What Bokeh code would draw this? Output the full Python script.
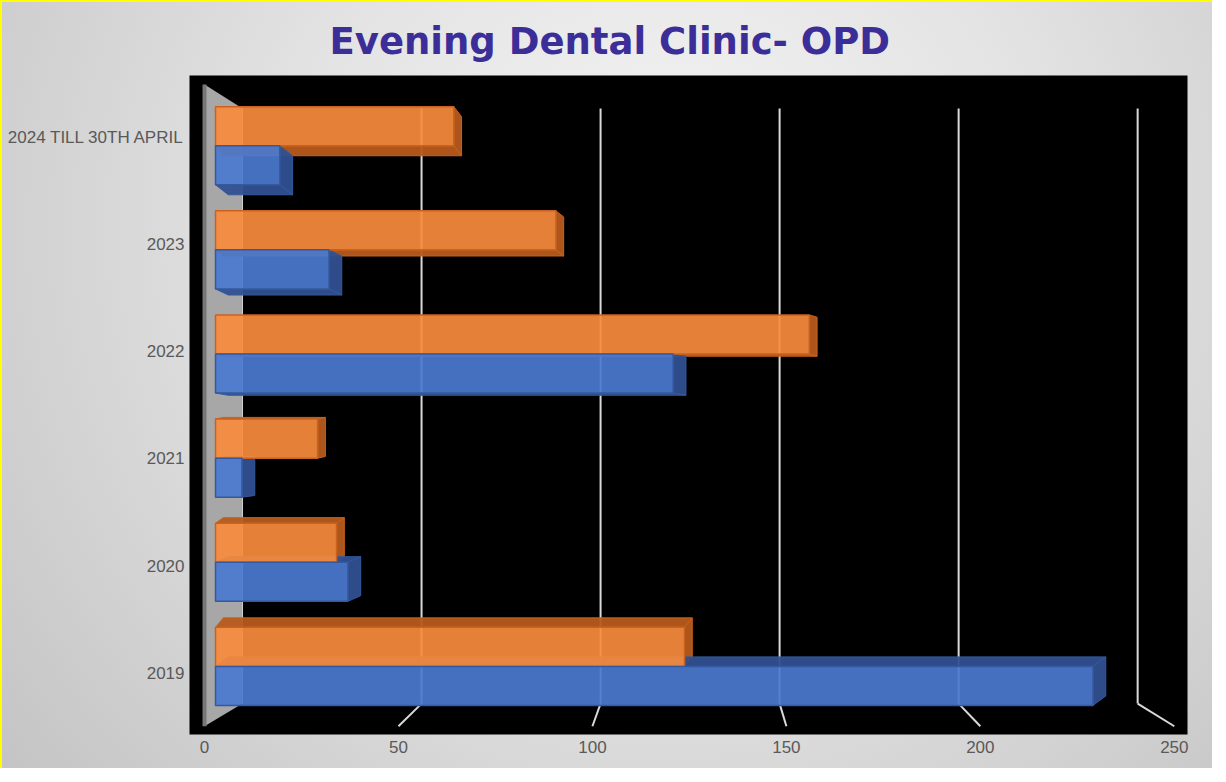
from bokeh.plotting import figure
from bokeh.models import FixedTicker
from bokeh.embed import file_html
from bokeh.resources import INLINE

# ---------------- data ----------------
categories = ["2019", "2020", "2021", "2022", "2023", "2024 TILL 30TH APRIL"]
blue_values = [232, 35, 7, 121, 30, 17]
orange_values = [124, 32, 27, 157, 90, 63]
x_ticks = [0, 50, 100, 150, 200, 250]

# ---------------- 3-D projection / style constants ----------------
BAR_X0, BAR_XS = 2.835, 0.975      # bar plane (x) relative to front axis
BAR_Y0, BAR_YS = 0.064, 0.971      # bar plane (y) relative to category ticks
BAR_H = 0.364
BACK_X0, BACK_XS = 9.8, 0.923      # back wall plane
FRONT_FLOOR_Y, BACK_FLOOR_Y = -0.494, -0.283
BACK_TOP_Y, FRONT_TOP_Y = 5.266, 5.49
DY0, DYK = 0.0886, 0.0364          # vertical depth offset per category
DX_BLUE, DX_ORANGE = 3.3, 2.0      # horizontal depth offset

ORANGE, ORANGE_DARK, ORANGE_EDGE = "#f78b3c", "#b75a1c", "#c9621f"
BLUE, BLUE_DARK, BLUE_EDGE = "#4a79cf", "#2f5090", "#34599e"
TEXT = "#595959"

p = figure(width=1212, height=768, output_backend="svg", toolbar_location=None,
           x_range=(-3.87, 253.4), y_range=(-0.571, 5.574),
           min_border_left=187, min_border_right=27, min_border_top=73, min_border_bottom=36)
p.background_fill_color = "black"
p.border_fill_color = None
p.outline_line_color = None
p.styles = {"background": "radial-gradient(circle at 55% 30%, #f5f5f5 0%, #e3e3e3 45%, #c4c4c4 100%)",
            "border-top": "2px solid #ffff00", "border-left": "2px solid #ffff00"}
p.xgrid.grid_line_color = None
p.ygrid.grid_line_color = None

# title
p.title.text = "Evening Dental Clinic- OPD"
p.title.text_font = "DejaVu Sans"
p.title.text_font_style = "bold"
p.title.text_font_size = "37px"
p.title.text_color = "#3b2e99"
p.title.align = "left"
p.title.offset = 140
p.title.standoff = 26

# axes
p.xaxis.ticker = FixedTicker(ticks=x_ticks)
p.yaxis.ticker = FixedTicker(ticks=list(range(len(categories))))
p.yaxis.major_label_overrides = {i: c for i, c in enumerate(categories)}
for ax in (p.xaxis[0], p.yaxis[0]):
    ax.axis_line_color = None
    ax.major_tick_line_color = None
    ax.minor_tick_line_color = None
    ax.major_tick_out = 0
    ax.major_tick_in = 0
    ax.minor_tick_out = 0
    ax.minor_tick_in = 0
    ax.major_label_text_font = "Liberation Sans"
    ax.major_label_text_font_size = "17px"
    ax.major_label_text_color = TEXT
p.xaxis.major_label_standoff = 6
p.yaxis.major_label_standoff = 5

# back-wall gridlines & floor lines
gx = [BACK_X0 + BACK_XS * t for t in x_ticks[1:]]
p.segment(x0=gx, y0=[BACK_FLOOR_Y] * len(gx), x1=gx, y1=[BACK_TOP_Y] * len(gx),
          line_color="#d9d9d9", line_width=2)
p.segment(x0=gx, y0=[BACK_FLOOR_Y] * len(gx), x1=x_ticks[1:], y1=[FRONT_FLOOR_Y] * len(gx),
          line_color="#d9d9d9", line_width=2)

# left wall
p.patch(x=[x_ticks[0], BACK_X0, BACK_X0, x_ticks[0]],
        y=[FRONT_FLOOR_Y, BACK_FLOOR_Y, BACK_TOP_Y, FRONT_TOP_Y],
        fill_color="#a7a7a7", line_color=None)
p.line(x=[x_ticks[0], x_ticks[0]], y=[FRONT_FLOOR_Y, FRONT_TOP_Y], line_color="#777777", line_width=4)
p.line(x=[BACK_X0, BACK_X0], y=[BACK_FLOOR_Y, BACK_TOP_Y], line_color="#d0d0d0", line_width=1)

# bars
def faces(vals, offset, dx):
    side_x, side_y, cap_x, cap_y, fy, fr = [], [], [], [], [], []
    for i, v in enumerate(vals):
        yc = BAR_Y0 + BAR_YS * i + offset
        yb, yt = yc - BAR_H / 2, yc + BAR_H / 2
        x0 = BAR_X0
        x1 = BAR_X0 + BAR_XS * v
        dy = DY0 - DYK * i
        side_x.append([x1, x1 + dx, x1 + dx, x1])
        side_y.append([yb, yb + dy, yt + dy, yt])
        edge = yt if dy > 0 else yb
        cap_x.append([x0, x0 + dx, x1 + dx, x1])
        cap_y.append([edge, edge + dy, edge + dy, edge])
        fy.append(yc)
        fr.append(x1)
    return side_x, side_y, cap_x, cap_y, fy, fr

o = faces(orange_values, BAR_H / 2, DX_ORANGE)
b = faces(blue_values, -BAR_H / 2, DX_BLUE)

for (sx, sy, cx, cy, _, _), dark, edge in ((o, ORANGE_DARK, ORANGE_EDGE), (b, BLUE_DARK, BLUE_EDGE)):
    p.patches(xs=cx, ys=cy, fill_color=dark, fill_alpha=0.95, line_color=edge, line_width=1)
    p.patches(xs=sx, ys=sy, fill_color=dark, fill_alpha=0.95, line_color=edge, line_width=1)

p.hbar(y=o[4], left=BAR_X0, right=o[5], height=BAR_H, fill_color=ORANGE, fill_alpha=0.92,
       line_color=ORANGE_EDGE, line_width=1.5)
p.hbar(y=b[4], left=BAR_X0, right=b[5], height=BAR_H, fill_color=BLUE, fill_alpha=0.92,
       line_color=BLUE_EDGE, line_width=1.5)

open("out.html", "w").write(file_html(p, INLINE))
